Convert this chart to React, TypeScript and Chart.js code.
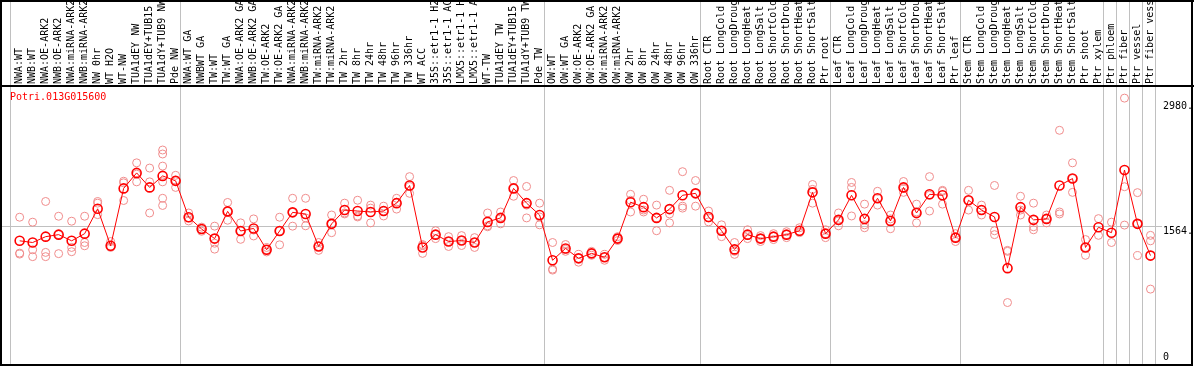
import React, { useEffect, useRef } from "react";
import { Chart, registerables } from "chart.js";

Chart.register(...registerables);

const geneName = "Potri.013G015600";

const sampleLabels = [
  "NWA:WT", "NWB:WT", "NWA:OE-ARK2", "NWB:OE-ARK2", "NWA:miRNA-ARK2", "NWB:miRNA-ARK2", "NW 0hr", "WT H2O", "WT-NW", "TUA1dEY NW", "TUA1dEY+TUB15", "TUA1dY+TUB9 NW", "Pde NW",
  "NWA:WT GA", "NWBWT GA", "TW:WT", "TW:WT GA", "NWA:OE-ARK2 GA", "NWB:OE-ARK2 GA", "TW:OE-ARK2", "TW:OE-ARK2 GA", "NWA:miRNA-ARK2", "NWB:miRNA-ARK2", "TW:miRNA-ARK2", "TW:miRNA-ARK2",
  "TW 2hr", "TW 8hr", "TW 24hr", "TW 48hr", "TW 96hr", "TW 336hr", "WT ACC", "35S::etr1-1 H2", "35S::etr1-1 AC", "LMX5::etr1-1 H", "LMX5::etr1-1 A", "WT-TW", "TUA1dEY TW", "TUA1dEY+TUB15", "TUA1dY+TUB9 TW", "Pde TW",
  "OW:WT", "OW:WT GA", "OW:OE-ARK2", "OW:OE-ARK2 GA", "OW:miRNA-ARK2", "OW:miRNA-ARK2", "OW 2hr", "OW 8hr", "OW 24hr", "OW 48hr", "OW 96hr", "OW 336hr",
  "Root CTR", "Root LongCold", "Root LongDroug", "Root LongHeat", "Root LongSalt", "Root ShortCold", "Root ShortDrou", "Root ShortHeat", "Root ShortSalt", "Ptr root",
  "Leaf CTR", "Leaf LongCold", "Leaf LongDroug", "Leaf LongHeat", "Leaf LongSalt", "Leaf ShortCold", "Leaf ShortDrou", "Leaf ShortHeat", "Leaf ShortSalt", "Ptr leaf",
  "Stem CTR", "Stem LongCold", "Stem LongDroug", "Stem LongHeat", "Stem LongSalt", "Stem ShortCold", "Stem ShortDrou", "Stem ShortHeat", "Stem ShortSalt", "Ptr shoot", "Ptr xylem",
  "Ptr phloem", "Ptr fiber", "Ptr vessel", "Ptr fiber vess",
];

const meanValues = [
  1392, 1373, 1439, 1462, 1392, 1473, 1754, 1336, 1985, 2160, 1996, 2126, 2070,
  1659, 1525, 1417, 1725, 1503, 1532, 1291, 1503, 1714, 1695, 1328, 1584,
  1740, 1729, 1718, 1729, 1818, 2018, 1317, 1462, 1384, 1395, 1373, 1606, 1651, 1985, 1818, 1684,
  1172, 1306, 1194, 1250, 1206, 1417, 1829, 1773, 1651, 1751, 1907, 1929,
  1662, 1506, 1295, 1462, 1417, 1439, 1462, 1506, 1940, 1473,
  1629, 1907, 1640, 1873, 1617, 1996, 1707, 1918, 1907, 1428,
  1851, 1740, 1662, 1083, 1773, 1629, 1640, 2018, 2096, 1317, 1545,
  1484, 2193, 1584, 1225,
];

const replicateValues: number[][] = [
  [1659, 1253, 1242], [1603, 1291, 1213], [1837, 1261, 1213], [1670, 1462, 1247], [1614, 1317, 1269], [1670, 1373, 1336],
  [1837, 1818, 1688], [1384, 1325, 1317], [2066, 2048, 1848], [2274, 2146, 2059], [2215, 2059, 1707],
  [2419, 2374, 2237, 2059, 1873, 1792], [2133, 2077, 1996],
  [1707, 1651, 1617], [1547, 1525, 1500], [1558, 1365, 1298], [1826, 1725, 1625], [1595, 1503, 1409], [1640, 1514, 1447],
  [1317, 1291, 1266], [1659, 1503, 1347], [1873, 1714, 1558], [1873, 1651, 1562], [1373, 1328, 1284], [1684, 1584, 1484],
  [1818, 1707, 1696], [1851, 1673, 1662], [1796, 1762, 1595], [1784, 1729, 1673], [1873, 1829, 1751], [2118, 2007, 1929],
  [1350, 1339, 1250], [1506, 1462, 1417], [1439, 1384, 1328], [1451, 1395, 1339], [1428, 1373, 1317], [1707, 1562, 1551],
  [1718, 1651, 1584], [2074, 1985, 1896], [2007, 1796, 1651], [1818, 1662, 1573],
  [1373, 1072, 1061], [1350, 1295, 1273], [1239, 1194, 1150], [1273, 1250, 1228], [1239, 1206, 1172], [1439, 1417, 1395],
  [1918, 1851, 1718], [1862, 1740, 1718], [1796, 1651, 1506], [1963, 1696, 1595], [2174, 1784, 1762], [2074, 1929, 1784],
  [1729, 1651, 1606], [1573, 1506, 1439], [1373, 1273, 1239], [1517, 1451, 1417], [1451, 1417, 1384], [1473, 1439, 1406],
  [1495, 1462, 1428], [1540, 1495, 1484], [2029, 1974, 1818], [1517, 1473, 1428],
  [1707, 1617, 1562], [2052, 1996, 1673], [1807, 1573, 1540], [1952, 1873, 1796], [1684, 1640, 1529], [2063, 1985, 1940],
  [1807, 1718, 1595], [2118, 1907, 1729], [1963, 1952, 1807], [1473, 1428, 1384],
  [1963, 1851, 1740], [1796, 1740, 1684], [2018, 1506, 1462], [1273, 1284, 694], [1896, 1740, 1684], [1818, 1551, 1517],
  [1684, 1640, 1595], [2642, 1718, 1696], [2274, 2096, 1940], [1406, 1317, 1228], [1643, 1454],
  [1603, 1373], [3006, 2004, 1570], [1937, 1584, 1225], [1454, 1392, 846],
];

// index of the last sample in each group (a separator follows it)
const groupEnds = [12, 40, 52, 62, 72, 83, 84, 85, 86, 87];
const axisTickValues = [2980, 1564, 0];
const axisTickLabels = ["2980.", "1564.", "0"];
const gridValue = 1564;

const FONT = "10px 'DejaVu Sans Mono', monospace";

const framePlugin = {
  id: "framePlugin",
  beforeDatasetsDraw(chart: any) {
    const { ctx, chartArea, scales } = chart;
    const xs = scales.x;
    const ys = scales.y;
    const W = chart.width;
    ctx.save();
    // gray separators
    ctx.strokeStyle = "#c0c0c0";
    ctx.lineWidth = 1;
    const sepVals = [-0.72, ...groupEnds.map((e) => e + 0.37)];
    sepVals.forEach((v) => {
      const x = Math.round(xs.getPixelForValue(v)) + 0.5;
      ctx.beginPath();
      ctx.moveTo(x, 0);
      ctx.lineTo(x, chartArea.bottom);
      ctx.stroke();
    });
    // horizontal grid line
    const gy = Math.round(ys.getPixelForValue(gridValue)) + 0.5;
    ctx.beginPath();
    ctx.moveTo(2, gy);
    ctx.lineTo(1162, gy);
    ctx.stroke();

    // black frame
    ctx.strokeStyle = "#000";
    ctx.lineWidth = 2;
    ctx.beginPath();
    ctx.moveTo(1, 0);
    ctx.lineTo(1, chartArea.bottom + 1);
    ctx.lineTo(1192, chartArea.bottom + 1);
    ctx.lineTo(1192, 0);
    ctx.stroke();
    ctx.beginPath();
    ctx.moveTo(0, 1);
    ctx.lineTo(W, 1);
    ctx.stroke();
    ctx.beginPath();
    ctx.moveTo(0, chartArea.top);
    ctx.lineTo(W, chartArea.top);
    ctx.stroke();

    // vertical sample labels
    ctx.fillStyle = "#000";
    ctx.font = FONT;
    ctx.textAlign = "left";
    ctx.textBaseline = "middle";
    ctx.beginPath();
    ctx.rect(2, 2, W - 4, chartArea.top - 3);
    ctx.clip();
    sampleLabels.forEach((lab, i) => {
      const x = xs.getPixelForValue(i);
      ctx.save();
      ctx.translate(x, chartArea.top - 2);
      ctx.rotate(-Math.PI / 2);
      ctx.fillText(lab, 0, 0);
      ctx.restore();
    });
    ctx.restore();

    ctx.save();
    // gene title
    ctx.fillStyle = "#ff0000";
    ctx.font = FONT;
    ctx.textAlign = "left";
    ctx.textBaseline = "top";
    ctx.fillText(geneName, 10, chartArea.top + 6);
    // right axis labels
    ctx.fillStyle = "#000";
    axisTickValues.forEach((v, i) => {
      const y = ys.getPixelForValue(v);
      if (v === 0) {
        ctx.textBaseline = "bottom";
        ctx.fillText(axisTickLabels[i], 1163, y - 1);
      } else {
        ctx.textBaseline = "top";
        ctx.fillText(axisTickLabels[i], 1163, y + 1);
      }
    });
    ctx.restore();
  },
};

export default function App() {
  const canvasRef = useRef<HTMLCanvasElement | null>(null);

  useEffect(() => {
    const canvas = canvasRef.current;
    if (!canvas) return;
    const repPoints: { x: number; y: number }[] = [];
    replicateValues.forEach((reps, i) => reps.forEach((v) => repPoints.push({ x: i, y: v })));
    const meanPoints = meanValues.map((v, i) => ({ x: i, y: v }));

    const chart = new Chart(canvas, {
      type: "scatter",
      data: {
        datasets: [
          {
            label: "replicates",
            data: repPoints,
            showLine: false,
            pointStyle: "circle",
            pointRadius: 4,
            pointBorderWidth: 1,
            borderColor: "rgb(240,140,140)",
            backgroundColor: "rgba(0,0,0,0)",
            order: 2,
          },
          {
            label: "mean",
            data: meanPoints,
            showLine: true,
            borderColor: "#ff0000",
            borderWidth: 1,
            pointStyle: "circle",
            pointRadius: 4.5,
            pointBorderWidth: 1.6,
            pointBorderColor: "#ff0000",
            pointBackgroundColor: "rgba(0,0,0,0)",
            backgroundColor: "rgba(0,0,0,0)",
            order: 1,
          },
        ],
      },
      options: {
        responsive: false,
        animation: false,
        devicePixelRatio: 1,
        layout: { padding: { left: 10.3, right: 38.7, top: 86, bottom: 1.7 } },
        scales: {
          x: { type: "linear", min: -0.72, max: 87.37, display: false },
          y: { type: "linear", min: 0, max: 3143, display: false },
        },
        plugins: { legend: { display: false }, tooltip: { enabled: false } },
        events: [],
      },
      plugins: [framePlugin],
    });
    return () => chart.destroy();
  }, []);

  return (
    <div style={{ position: "absolute", left: 0, top: 0, width: 1194, height: 370, background: "#fff" }}>
      <canvas ref={canvasRef} width={1194} height={370} style={{ width: 1194, height: 370, display: "block" }} />
    </div>
  );
}
